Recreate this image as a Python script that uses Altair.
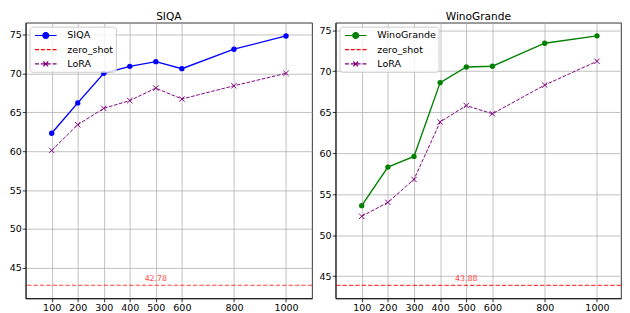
import altair as alt
import pandas as pd

steps = [100, 200, 300, 400, 500, 600, 800, 1000]
siqa = [62.3, 66.2, 70.0, 70.9, 71.5, 70.6, 73.1, 74.8]
siqa_lora = [60.1, 63.4, 65.5, 66.5, 68.1, 66.7, 68.4, 70.0]
siqa_zero = 42.78
wino = [53.6, 58.3, 59.6, 68.6, 70.5, 70.6, 73.4, 74.3]
wino_lora = [52.3, 54.0, 56.8, 63.8, 65.8, 64.8, 68.3, 71.2]
wino_zero = 43.88
y_ticks = [45, 50, 55, 60, 65, 70, 75]
label_step = 500

FONT = "DejaVu Sans"
RED = "#ff0000"
PURPLE = "#800080"

# legend symbol paths (line + marker)
SOLID_CIRCLE = ("M-2,0H2M-0.55,0A0.55,0.55,0,1,0,0.55,0A0.55,0.55,0,1,0,-0.55,0Z")
DASHED = "M-2,0H-1.25M-0.92,0H-0.17M0.17,0H0.92M1.25,0H2"
DASHED_X = DASHED + "M-0.45,-0.45L0.45,0.45M-0.45,0.45L0.45,-0.45"
X_SHAPE = "M-1,-1L1,1M-1,1L1,-1"


def panel(name, main_vals, lora_vals, zero, main_color, x_dom, y_dom, width):
    df = pd.DataFrame({
        "series": [name] * len(steps) + ["LoRA"] * len(steps),
        "step": steps + steps,
        "value": main_vals + lora_vals,
    })
    zdf = pd.DataFrame({"series": ["zero_shot"], "step": [label_step], "value": [zero]})
    x = alt.X("step:Q", scale=alt.Scale(domain=x_dom, nice=False, zero=False),
              axis=alt.Axis(values=steps, title=None, format="d"))
    y = alt.Y("value:Q", scale=alt.Scale(domain=y_dom, nice=False, zero=False),
              axis=alt.Axis(values=y_ticks, title=None, format="d"))
    base = alt.Chart(df).encode(x=x, y=y)
    main = base.transform_filter(alt.datum.series == name)
    lora = base.transform_filter(alt.datum.series == "LoRA")

    main_line = main.mark_line(color=main_color, strokeWidth=1.4)
    main_pts = main.mark_point(shape="circle", filled=True, color=main_color,
                               size=30, opacity=1)
    lora_line = lora.mark_line(color=PURPLE, strokeWidth=1.0, strokeDash=[3.7, 1.6])
    lora_pts = lora.mark_point(shape=X_SHAPE, filled=False, color=PURPLE,
                               size=30, opacity=1, strokeWidth=1.0)
    zbase = alt.Chart(zdf)
    zrule = zbase.mark_rule(color=RED, strokeWidth=1.2, strokeDash=[4.5, 2],
                            opacity=0.75).encode(y=alt.Y("value:Q"))
    ztext = zbase.mark_text(color=RED, fontSize=8, font=FONT, baseline="bottom",
                            dy=-2, opacity=0.75).encode(
        x="step:Q", y="value:Q", text=alt.Text("value:Q", format=".2f"))

    dom = [name, "zero_shot", "LoRA"]
    rng = [main_color, RED, PURPLE]
    leg = alt.Legend(title=None)
    legend_layer = base.transform_filter("false").mark_point(
        filled=True, opacity=1, strokeWidth=1.2).encode(
        fill=alt.Fill("series:N", scale=alt.Scale(domain=dom, range=rng), legend=leg),
        stroke=alt.Stroke("series:N", scale=alt.Scale(domain=dom, range=rng), legend=leg),
        shape=alt.Shape("series:N", scale=alt.Scale(domain=dom,
                        range=[SOLID_CIRCLE, DASHED, DASHED_X]), legend=leg),
    )
    return alt.layer(zrule, ztext, lora_line, lora_pts, main_line, main_pts,
                     legend_layer).properties(
        width=width, height=281,
        title=alt.TitleParams(name, fontSize=10.8, font=FONT, fontWeight="normal",
                              color="black", offset=-1, dy=-1.5))


left = panel("SIQA", siqa, siqa_lora, siqa_zero, "#0000ff", [0, 1100], [41.1, 76.5], 292)
right = panel("WinoGrande", wino, wino_lora, wino_zero, "#008000", [0, 1092], [42.3, 75.9], 291)

chart = alt.hconcat(left, right, spacing=5).resolve_scale(
    x="independent", y="independent", fill="independent", stroke="independent",
    shape="independent").resolve_legend(fill="independent", stroke="independent",
                                        shape="independent").properties(
    padding=0).configure_view(stroke="black", strokeWidth=0.8).configure_axis(
    grid=True, gridColor="#b0b0b0", gridWidth=0.8, domainColor="black",
    domainWidth=0.8, tickColor="black", tickWidth=0.8, tickSize=3.5,
    labelColor="black", labelFont=FONT, labelFontSize=9.7, labelPadding=1,
    labelFlush=False, labelOverlap=False).configure_legend(
    orient="top-left", offset=3.5, padding=2.5, fillColor="rgba(255,255,255,0.8)",
    strokeColor="#cccccc", cornerRadius=3, symbolSize=121, symbolOffset=7.5,
    labelOffset=15.5, rowPadding=2.5, labelFontSize=9.7, labelFont=FONT,
    labelColor="black", symbolStrokeWidth=1.2)

chart.save("out.html", embed_options={"renderer": "svg", "actions": False})
